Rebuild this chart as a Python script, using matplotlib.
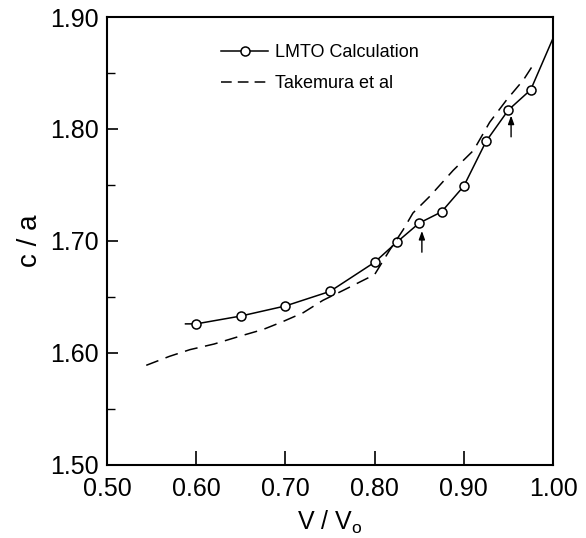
import matplotlib
matplotlib.use("Agg")
import matplotlib.pyplot as plt
from matplotlib.ticker import MultipleLocator

# =====================================================
# c/a ratio vs reduced volume
# =====================================================

# 1. Values
lmto_v = [0.60, 0.65, 0.70, 0.75, 0.80, 0.825, 0.85, 0.875, 0.90, 0.925, 0.95, 0.975]
lmto_ca = [1.626, 1.633, 1.642, 1.655, 1.681, 1.699, 1.716, 1.726, 1.749, 1.789, 1.817, 1.835]

# curve ends (line runs a bit beyond the calculated points)
lmto_start = (0.588, 1.626)
lmto_end = (1.000, 1.881)

takemura_v = [0.544, 0.570, 0.593, 0.620, 0.649, 0.675, 0.697, 0.720, 0.742, 0.765,
              0.800, 0.817, 0.832, 0.843, 0.862, 0.888, 0.911, 0.929, 0.948, 0.967, 0.980]
takemura_ca = [1.589, 1.597, 1.603, 1.608, 1.615, 1.621, 1.628, 1.636, 1.647, 1.656,
               1.670, 1.692, 1.710, 1.725, 1.740, 1.763, 1.781, 1.806, 1.826, 1.844, 1.860]

# transition markers (arrows) : x, tail y, tip y
arrow_v = [0.853, 0.953]
arrow_tail = [1.690, 1.793]
arrow_tip = [1.709, 1.812]

# 2. Figure setup
plt.rcParams["font.family"] = ["Liberation Sans", "DejaVu Sans"]
plt.rcParams["mathtext.default"] = "regular"

fig = plt.figure(figsize=(5.86, 5.38), dpi=100)
ax = fig.add_axes([0.1826, 0.1357, 0.7611, 0.8327])

# 3. Curves
line_v = [lmto_start[0]] + lmto_v + [lmto_end[0]]
line_ca = [lmto_start[1]] + lmto_ca + [lmto_end[1]]
ax.plot(line_v, line_ca, color="black", lw=1.1)
ax.plot(lmto_v, lmto_ca, linestyle="none", marker="o", ms=6.5,
        mfc="white", mec="black", mew=1.1)

ax.plot(takemura_v, takemura_ca, color="black", lw=1.1, dashes=(8.5, 5))

# legend proxies
ax.plot([], [], color="black", lw=1.1, marker="o", ms=6.5, mfc="white",
        mec="black", mew=1.1, label="LMTO Calculation")
ax.plot([], [], color="black", lw=1.1, dashes=(7, 4), label="Takemura et al")

for x, y0, y1 in zip(arrow_v, arrow_tail, arrow_tip):
    ax.annotate("", xy=(x, y1), xytext=(x, y0),
                arrowprops=dict(arrowstyle="-|>,head_length=0.5,head_width=0.18",
                                color="black", lw=1.0, shrinkA=0, shrinkB=0))

# 4. Axes styling
ax.set_xlim(0.50, 1.00)
ax.set_ylim(1.50, 1.90)
ax.xaxis.set_major_locator(MultipleLocator(0.10))
ax.yaxis.set_major_locator(MultipleLocator(0.10))
ax.yaxis.set_minor_locator(MultipleLocator(0.05))
ax.xaxis.set_major_formatter(matplotlib.ticker.FormatStrFormatter("%.2f"))
ax.yaxis.set_major_formatter(matplotlib.ticker.FormatStrFormatter("%.2f"))

ax.tick_params(axis="both", which="major", direction="in", length=8, width=1.2,
               labelsize=18, pad=6)
ax.tick_params(axis="y", which="minor", direction="in", length=6, width=1.0)
ax.tick_params(axis="x", which="major", length=10, pad=9)

for side in ["left", "right", "top", "bottom"]:
    ax.spines[side].set_linewidth(1.5)

ax.set_xlabel("V / V$_{o}$", fontsize=18, labelpad=5)
ax.set_ylabel("c / a", fontsize=20, labelpad=5)

ax.legend(loc="upper left", bbox_to_anchor=(0.22, 0.975), frameon=False,
          fontsize=13, handlelength=2.6, handletextpad=0.35, labelspacing=0.75)

plt.savefig("out.png", dpi=100)
